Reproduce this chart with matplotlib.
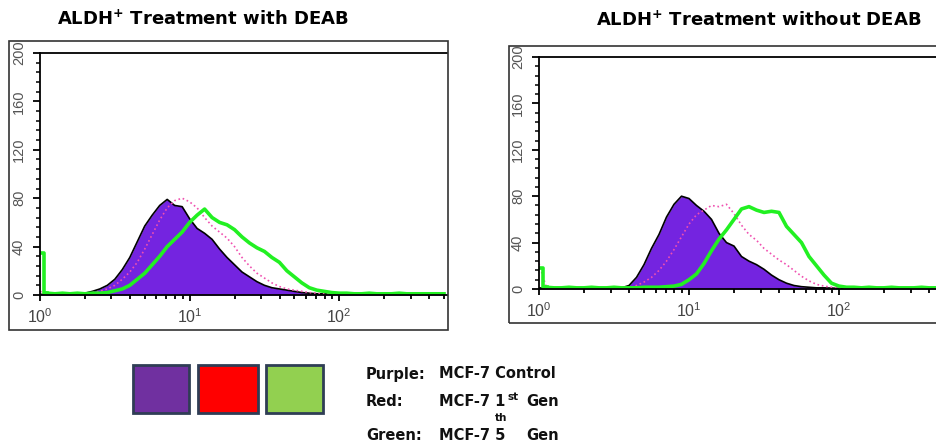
import matplotlib
matplotlib.use('Agg')
import matplotlib.pyplot as plt
from matplotlib.patches import Rectangle
import numpy as np

plt.rcParams['mathtext.fontset'] = 'custom'
plt.rcParams['mathtext.rm'] = 'Liberation Sans'
plt.rcParams['mathtext.bf'] = 'DejaVu Sans:bold'

W, H = 936, 447

# channel positions (log10 of fluorescence)
log_ch = [0.00, 0.05, 0.10, 0.15, 0.20, 0.25, 0.30, 0.35, 0.40, 0.45,
          0.50, 0.55, 0.60, 0.65, 0.70, 0.75, 0.80, 0.85, 0.90, 0.95,
          1.00, 1.05, 1.10, 1.15, 1.20, 1.25, 1.30, 1.35, 1.40, 1.45,
          1.50, 1.55, 1.60, 1.65, 1.70, 1.75, 1.80, 1.85, 1.90, 1.95,
          2.00, 2.05, 2.10, 2.15, 2.20, 2.25, 2.30, 2.35, 2.40, 2.45,
          2.50, 2.55, 2.60, 2.65, 2.70]

# with DEAB
deab_purple = [0.5, 0.5, 0.3, 0.5, 0.5, 1, 1.5, 3, 5, 8,
               13, 21, 31, 44, 57, 66, 74, 79, 74, 73,
               63, 55, 51, 46, 38, 31, 25, 19, 15, 11,
               8, 6, 5, 4, 3, 2, 1.5, 1, 1, 0.8,
               0.5, 0.5, 0.5, 0.4, 0.5, 0.5, 0.4, 0.5, 0.5, 0.4,
               0.5, 0.4, 0.5, 0.5, 0.5]
deab_red = [3, 1, 0.5, 0.5, 0.8, 1, 1, 2, 3, 5,
            8, 13, 19, 27, 38, 50, 62, 72, 78, 80,
            77, 72, 64, 57, 52, 47, 40, 31, 24, 18,
            14, 10, 7, 5, 4, 3, 2, 1.5, 1, 1,
            0.8, 0.5, 0.5, 0.5, 0.5, 0.5, 0.5, 0.5, 0.5, 0.5,
            0.5, 0.5, 0.5, 0.5, 0.5]
deab_green = [35, 1.5, 1, 1.5, 1, 1.5, 1, 1.5, 1.5, 2,
              3.5, 5, 8, 13, 18, 25, 32, 40, 46, 52,
              60, 66, 71, 64, 60, 58, 54, 48, 43, 39,
              36, 31, 27, 20, 15, 10, 6, 4, 3, 2,
              1.5, 1.5, 1, 1, 1.5, 1, 1, 1, 1.5, 1,
              1, 1, 1, 1, 1]

# without DEAB
nodeab_purple = [1, 0.5, 0.5, 0.5, 0.5, 0.5, 0.8, 0.5, 0.5, 0.8,
                 0.8, 1, 3, 10, 21, 35, 47, 62, 73, 80,
                 78, 72, 67, 60, 48, 40, 37, 28, 24, 21,
                 17, 12, 8, 5, 3, 2, 1.5, 1, 1, 0.8,
                 0.5, 0.5, 0.5, 0.5, 0.4, 0.5, 0.5, 0.4, 0.5, 0.5,
                 0.4, 0.5, 0.5, 0.5, 0.5]
nodeab_red = [22, 1, 0.5, 0.5, 0.5, 0.5, 0.5, 0.5, 0.5, 0.5,
              0.5, 0.5, 1, 3, 6, 10, 16, 24, 34, 45,
              56, 64, 68, 72, 71, 73, 65, 55, 47, 42,
              35, 30, 25, 21, 16, 11, 7, 4, 2.5, 1.5,
              1, 0.5, 0.5, 0.5, 0.5, 0.5, 0.5, 0.5, 0.5, 0.5,
              0.5, 0.5, 0.5, 0.5, 0.5]
nodeab_green = [18, 1.5, 1, 1, 1.5, 1, 1, 1.5, 1, 1,
                1.5, 1, 1, 1, 1.5, 1.5, 1.5, 2, 2.5, 4,
                8, 13, 22, 33, 43, 51, 60, 69, 71, 68,
                66, 67, 66, 54, 47, 40, 28, 20, 12, 5,
                2.5, 1.5, 1.5, 1, 1.5, 1, 1, 1.5, 1, 1,
                1, 1.5, 1, 1, 1]

titles = ['ALDH$^{\\mathbf{+}}$ Treatment with DEAB',
          'ALDH$^{\\mathbf{+}}$ Treatment without DEAB']
legend_colors = ['#7030a0', '#ff0000', '#92d050']


def fig_rect(x0, y0, x1, y1):
    # pixel box (top-left origin) -> figure fraction
    return [x0 / W, 1 - y1 / H, (x1 - x0) / W, (y1 - y0) / H]


def draw_panel(ax, purple, red, green):
    ax.fill_between(log_ch, purple, color='#7424e0', lw=0)
    ax.plot(log_ch, purple, color='black', lw=1.2)
    ax.plot(log_ch, red, color='#f050b0', lw=1.2, ls=':')
    # spike in the first channel drawn as a narrow step
    ax.plot(log_ch[:2], green[:2], color='#22f022', lw=2.6, drawstyle='steps-mid')
    ax.plot(log_ch[1:], green[1:], color='#22f022', lw=2.6)
    ax.set_xlim(0, 2.72)
    ax.set_ylim(0, 200)
    ax.spines['right'].set_visible(False)
    for s in ['left', 'top', 'bottom']:
        ax.spines[s].set_linewidth(1.3)
    ax.set_xticks([0, 1, 2])
    ax.set_xticklabels(['$10^{0}$', '$10^{1}$', '$10^{2}$'])
    minor = [d + np.log10(k) for d in range(3) for k in range(2, 10)
             if d + np.log10(k) < 2.72]
    ax.set_xticks(minor, minor=True)
    ax.set_yticks([0, 40, 80, 120, 160, 200])
    ax.set_yticks(range(0, 201, 8), minor=True)
    ax.tick_params(axis='x', which='major', length=4, width=1.3, pad=5,
                   labelsize=11.5, labelcolor='#444')
    ax.tick_params(axis='x', which='minor', length=3, width=1.3)
    ax.tick_params(axis='y', which='major', length=5, width=1.3, pad=5,
                   labelsize=10.5, labelcolor='#555')
    ax.tick_params(axis='y', which='minor', length=3, width=1.1)
    for lab in ax.get_yticklabels():
        lab.set_rotation(90)
        lab.set_va('center')
        lab.set_family('Liberation Sans')


fig = plt.figure(figsize=(W / 100, H / 100), dpi=100)

ax1 = fig.add_axes(fig_rect(40, 53, 447, 295))
draw_panel(ax1, deab_purple, deab_red, deab_green)
ax2 = fig.add_axes(fig_rect(539, 57, 947, 289))
draw_panel(ax2, nodeab_purple, nodeab_red, nodeab_green)

# outer frames
fig.add_artist(Rectangle((9 / W, 1 - 330 / H), 439 / W, 289 / H,
                         transform=fig.transFigure, fill=False, lw=1.2, ec='#333'))
fig.add_artist(Rectangle((509 / W, 1 - 323 / H), 445 / W, 277 / H,
                         transform=fig.transFigure, fill=False, lw=1.2, ec='#333'))

fig.text(203 / W, 1 - 19 / H, titles[0], ha='center', va='center',
         fontsize=13, fontweight='bold')
fig.text(759 / W, 1 - 20 / H, titles[1], ha='center', va='center',
         fontsize=13, fontweight='bold')

# colour key
for i, (x0, x1) in enumerate([(133, 189), (198, 258), (266, 323)]):
    fig.add_artist(Rectangle((x0 / W, 1 - 413 / H), (x1 - x0) / W, 48 / H,
                             transform=fig.transFigure, fc=legend_colors[i],
                             ec='#2f3d55', lw=2))

tk = dict(fontsize=10.5, fontweight='bold', va='center', color='#111')
sup = dict(fontsize=7.5, fontweight='bold', va='center', color='#111')
fig.text(366 / W, 1 - 374 / H, 'Purple:', **tk)
fig.text(439 / W, 1 - 374 / H, 'MCF-7 Control', **tk)
fig.text(366 / W, 1 - 402 / H, 'Red:', **tk)
fig.text(439 / W, 1 - 402 / H, 'MCF-7 1', **tk)
fig.text(508 / W, 1 - 397 / H, 'st', **sup)
fig.text(526 / W, 1 - 402 / H, 'Gen', **tk)
fig.text(366 / W, 1 - 436 / H, 'Green:', **tk)
fig.text(439 / W, 1 - 436 / H, 'MCF-7 5', **tk)
fig.text(495 / W, 1 - 418 / H, 'th', **sup)
fig.text(526 / W, 1 - 436 / H, 'Gen', **tk)

fig.savefig('out.png', dpi=100)
